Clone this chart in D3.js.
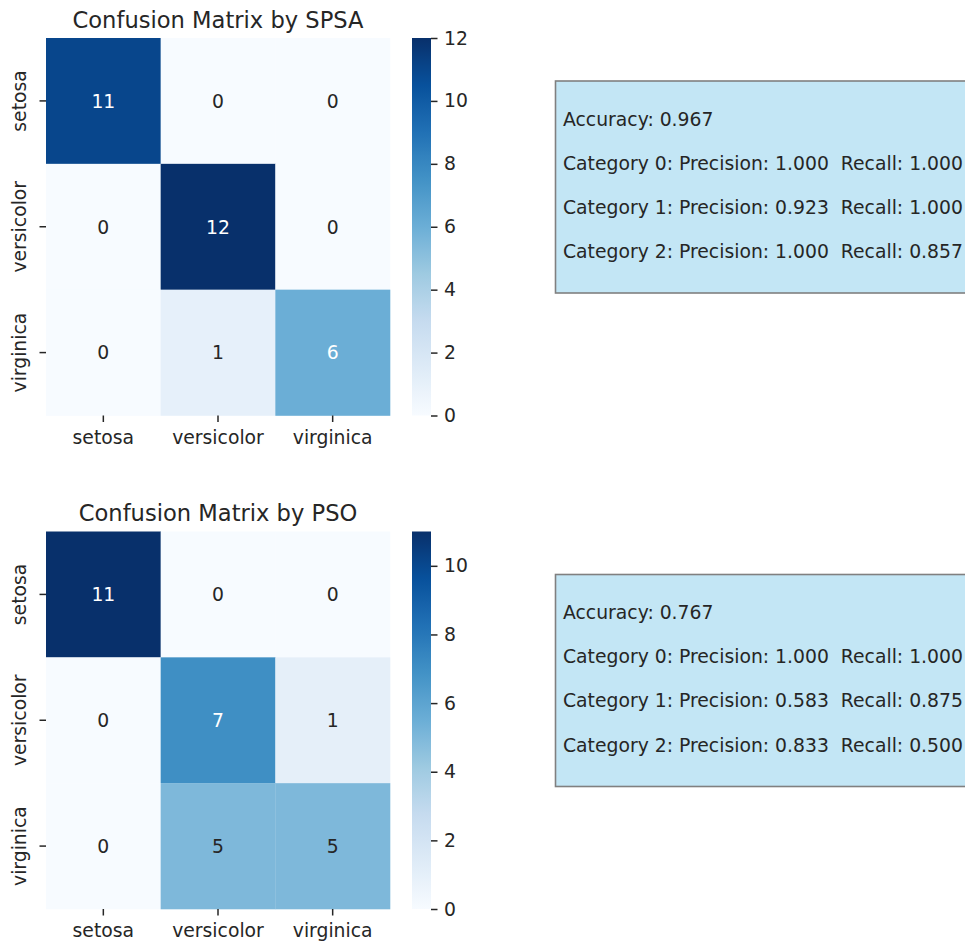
<!DOCTYPE html>
<html>
<head>
<meta charset="utf-8">
<script src="https://cdn.jsdelivr.net/npm/d3@7"></script>
<style>
  html, body { margin: 0; padding: 0; background: #fff; }
  svg { display: block; font-family: "DejaVu Sans", sans-serif; }
  text { fill: #262626; }
</style>
</head>
<body>
<svg id="chart" width="965" height="944"></svg>
<script>
// Class labels shared by both confusion matrices
const categories = ["setosa", "versicolor", "virginica"];

// Confusion matrices (rows = true class, columns = predicted class)
const spsaMatrix = [
  [11, 0, 0],
  [0, 12, 0],
  [0, 1, 6]
];
const psoMatrix = [
  [11, 0, 0],
  [0, 7, 1],
  [0, 5, 5]
];

// Summary metrics per optimiser
const spsaAccuracy = 0.967;
const spsaPrecision = [1.000, 0.923, 1.000];
const spsaRecall = [1.000, 1.000, 0.857];
const psoAccuracy = 0.767;
const psoPrecision = [1.000, 0.583, 0.833];
const psoRecall = [1.000, 0.875, 0.500];

// Colour bar tick labels
const spsaColorTicks = [0, 2, 4, 6, 8, 10, 12];
const psoColorTicks = [0, 2, 4, 6, 8, 10];

const titles = ["Confusion Matrix by SPSA", "Confusion Matrix by PSO"];

// Blues colour map: linear segments through the nine ColorBrewer steps
const bluesStops = ["#f7fbff", "#deebf7", "#c6dbef", "#9ecae1", "#6baed6",
                    "#4292c6", "#2171b5", "#08519c", "#08306b"];
const blues = d3.scaleLinear()
  .domain(d3.range(bluesStops.length).map(i => i / (bluesStops.length - 1)))
  .range(bluesStops)
  .interpolate(d3.interpolateRgb)
  .clamp(true);

function luminance(color) {
  const c = d3.rgb(color);
  const lin = v => { v /= 255; return v <= 0.03928 ? v / 12.92 : Math.pow((v + 0.055) / 1.055, 2.4); };
  return 0.2126 * lin(c.r) + 0.7152 * lin(c.g) + 0.0722 * lin(c.b);
}

const svg = d3.select("#chart");
const defs = svg.append("defs");

const FS = 18.8;      // tick / annotation / metrics font size
const TITLE_FS = 22.6;
const TICK_LEN = 6.5;
const TICK_W = 1.5;

const panels = [
  { matrix: spsaMatrix, title: titles[0], ticks: spsaColorTicks,
    accuracy: spsaAccuracy, precision: spsaPrecision, recall: spsaRecall, top: 38 },
  { matrix: psoMatrix, title: titles[1], ticks: psoColorTicks,
    accuracy: psoAccuracy, precision: psoPrecision, recall: psoRecall, top: 531.5 }
];

panels.forEach((p, pi) => {
  const left = 46, right = 390;
  const top = p.top, bottom = p.top + 377.5;
  const g = svg.append("g");

  const vmin = d3.min(p.matrix.flat());
  const vmax = d3.max(p.matrix.flat());
  const norm = d3.scaleLinear().domain([vmin, vmax]).range([0, 1]);
  const colorOf = v => blues(norm(v));

  const x = d3.scaleBand().domain(categories).range([left, right]).padding(0);
  const y = d3.scaleBand().domain(categories).range([top, bottom]).padding(0);

  // Heatmap cells
  const cells = [];
  p.matrix.forEach((row, ri) => row.forEach((v, ci) => cells.push({ r: categories[ri], c: categories[ci], v })));

  g.selectAll("rect.cell").data(cells).join("rect")
    .attr("class", "cell")
    .attr("x", d => x(d.c))
    .attr("y", d => y(d.r))
    .attr("width", x.bandwidth() + 0.3)
    .attr("height", y.bandwidth() + 0.3)
    .attr("fill", d => colorOf(d.v));

  // Cell annotations
  g.selectAll("text.annot").data(cells).join("text")
    .attr("class", "annot")
    .attr("x", d => x(d.c) + x.bandwidth() / 2)
    .attr("y", d => y(d.r) + y.bandwidth() / 2)
    .attr("text-anchor", "middle")
    .attr("dy", "0.36em")
    .attr("font-size", FS)
    .style("fill", d => luminance(colorOf(d.v)) > 0.408 ? "#262626" : "#ffffff")
    .text(d => d.v);

  // Title
  g.append("text")
    .attr("x", (left + right) / 2)
    .attr("y", top - 10.5)
    .attr("text-anchor", "middle")
    .attr("font-size", TITLE_FS)
    .text(p.title);

  // X axis
  const xAxis = g.append("g")
    .attr("transform", `translate(0,${bottom})`)
    .call(d3.axisBottom(x).tickSize(TICK_LEN).tickPadding(6.5));
  xAxis.select(".domain").remove();
  xAxis.selectAll(".tick line").attr("stroke", "#262626").attr("stroke-width", TICK_W);
  xAxis.selectAll(".tick text")
    .attr("font-size", FS)
    .attr("font-family", "DejaVu Sans")
    .attr("dy", "0.82em")
    .style("fill", "#262626");

  // Y axis with vertical labels
  const yAxis = g.append("g")
    .attr("transform", `translate(${left},0)`)
    .call(d3.axisLeft(y).tickSize(TICK_LEN).tickPadding(0));
  yAxis.select(".domain").remove();
  yAxis.selectAll(".tick line").attr("stroke", "#262626").attr("stroke-width", TICK_W);
  yAxis.selectAll(".tick text")
    .attr("font-size", FS)
    .attr("font-family", "DejaVu Sans")
    .attr("x", null).attr("dy", null)
    .attr("text-anchor", "middle")
    .attr("transform", "translate(-20,0) rotate(-90)")
    .style("fill", "#262626");

  // Colour bar
  const cbLeft = 412, cbWidth = 19;
  const cbScale = d3.scaleLinear().domain([vmin, vmax]).range([bottom, top]);
  const gradId = "cbgrad" + pi;
  const grad = defs.append("linearGradient")
    .attr("id", gradId)
    .attr("x1", 0).attr("y1", 1).attr("x2", 0).attr("y2", 0);
  d3.range(0, 1.0001, 1 / 32).forEach(t => {
    grad.append("stop").attr("offset", t).attr("stop-color", blues(t));
  });
  g.append("rect")
    .attr("x", cbLeft).attr("y", top)
    .attr("width", cbWidth).attr("height", bottom - top)
    .attr("fill", `url(#${gradId})`);

  const cbAxis = g.append("g")
    .attr("transform", `translate(${cbLeft + cbWidth},0)`)
    .call(d3.axisRight(cbScale).tickValues(p.ticks).tickSize(TICK_LEN).tickPadding(6.5));
  cbAxis.select(".domain").remove();
  cbAxis.selectAll(".tick line").attr("stroke", "#262626").attr("stroke-width", TICK_W);
  cbAxis.selectAll(".tick text")
    .attr("font-size", FS)
    .attr("font-family", "DejaVu Sans")
    .style("fill", "#262626");

  // Metrics text box
  const boxTop = top + 43, boxH = 212;
  g.append("rect")
    .attr("x", 555.5).attr("y", boxTop)
    .attr("width", 460).attr("height", boxH)
    .attr("fill", "skyblue").attr("fill-opacity", 0.5)
    .attr("stroke", "#808080").attr("stroke-width", 1.6);

  const lines = [`Accuracy: ${p.accuracy.toFixed(3)}`].concat(
    categories.map((c, i) =>
      `Category ${i}: Precision: ${p.precision[i].toFixed(3)}  Recall: ${p.recall[i].toFixed(3)}`)
  );
  g.selectAll("text.metric").data(lines).join("text")
    .attr("class", "metric")
    .attr("x", 563)
    .attr("y", (d, i) => boxTop + 44.5 + i * 44.2)
    .attr("font-size", FS)
    .style("white-space", "pre")
    .attr("xml:space", "preserve")
    .text(d => d);
});
</script>
</body>
</html>
